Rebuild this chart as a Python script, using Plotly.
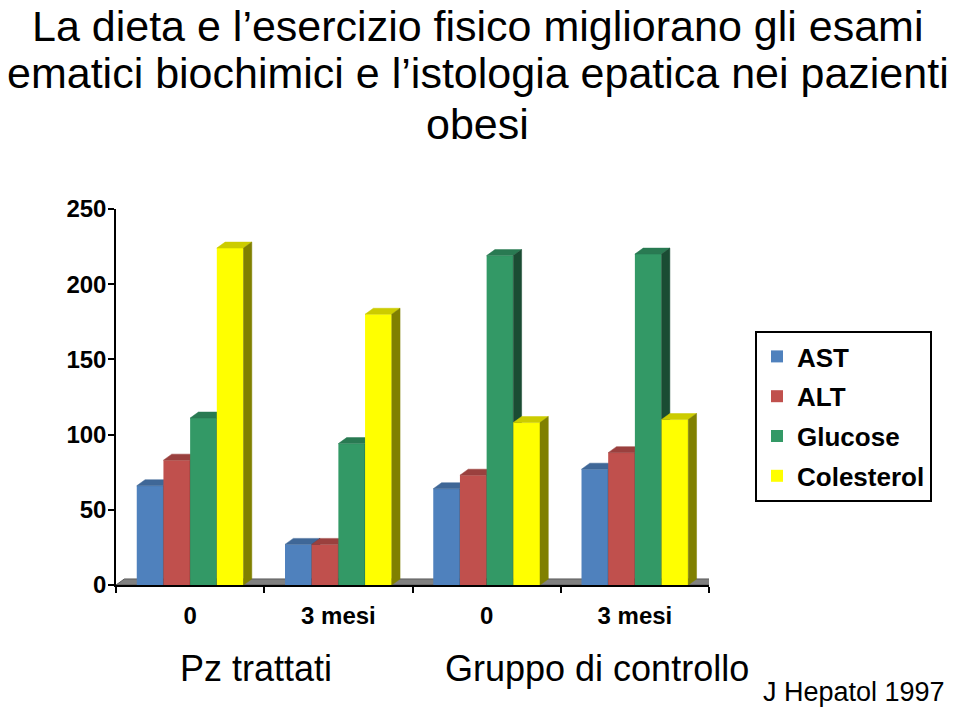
import plotly.graph_objects as go

# ---------------- data ----------------
categories = ["0", "3 mesi", "0", "3 mesi"]
group_labels = ["Pz trattati", "Gruppo di controllo"]
series_names = ["AST", "ALT", "Glucose", "Colesterol"]
ast = [66, 27, 64, 77]
alt = [83, 27, 73, 88]
glucose = [111, 94, 219, 220]
colesterol = [224, 180, 108, 110]
y_ticks = [0, 50, 100, 150, 200, 250]
source = "J Hepatol 1997"
title_lines = [
    "La dieta e l\u2019esercizio fisico migliorano gli esami",
    "ematici biochimici e l\u2019istologia epatica nei pazienti",
    "obesi",
]

# ---------------- style ----------------
series_values = [ast, alt, glucose, colesterol]
front_colors = [(79, 129, 189), (192, 80, 77), (51, 153, 102), (255, 255, 0)]
BAR_W = 0.18          # width of one bar (category units)
DX = 0.056            # 3-D depth, horizontal (category units)
DY = 4.0              # 3-D depth, vertical (value units)
Y_MAX = 250
FONT = "Liberation Sans, Arial, sans-serif"

# pixel geometry of the plot area (used to place texts)
PL, PR, PT, PB = 116, 709, 209, 585


def px_x(p):
    return (p - PL) / (PR - PL)


def px_y(p):
    return (PB - p) / (PB - PT)


def rgb(c, k=1.0):
    return "rgb(%d,%d,%d)" % tuple(int(round(v * k)) for v in c)


xs = list(range(len(categories)))
x_lo, x_hi = -0.5, len(categories) - 0.5
n_series = len(series_names)
first_offset = -BAR_W * n_series / 2

fig = go.Figure()

# floor of the 3-D plot (base subplot, behind everything)
fig.add_trace(go.Scatter(
    x=[x_lo, x_hi, x_hi + DX, x_lo + DX, x_lo],
    y=[0, 0, DY, DY, 0],
    mode="lines", fill="toself", fillcolor="rgb(128,128,128)",
    line=dict(color="rgb(90,90,90)", width=1),
    hoverinfo="skip", showlegend=False, yaxis="y",
))

for j, (name, vals, col) in enumerate(zip(series_names, series_values, front_colors)):
    yax = "y%d" % (j + 2)
    off = first_offset + j * BAR_W
    # front faces
    fig.add_trace(go.Bar(
        x=xs, y=vals, offset=off, width=BAR_W, name=name,
        marker=dict(color=rgb(col), line=dict(width=0)),
        legendgroup=name, yaxis=yax,
    ))
    # top and side faces
    tx, ty = [], []
    sx, sy = [], []
    for xc, v in zip(xs, vals):
        L = xc + off
        R = L + BAR_W
        tx += [L, R, R + DX, L + DX, L, None]
        ty += [v, v, v + DY, v + DY, v, None]
        sx += [R, R + DX, R + DX, R, R, None]
        sy += [0, DY, v + DY, v, 0, None]
    fig.add_trace(go.Scatter(
        x=tx, y=ty, mode="lines", fill="toself", fillcolor=rgb(col, 0.8),
        line=dict(color=rgb(col, 0.8), width=0.5),
        hoverinfo="skip", showlegend=False, legendgroup=name, yaxis=yax,
    ))
    fig.add_trace(go.Scatter(
        x=sx, y=sy, mode="lines", fill="toself", fillcolor=rgb(col, 0.5),
        line=dict(color=rgb(col, 0.5), width=0.5),
        hoverinfo="skip", showlegend=False, legendgroup=name, yaxis=yax,
    ))

boundaries = [x - 0.5 for x in xs] + [xs[-1] + 0.5]

layout_axes = {}
for j in range(n_series):
    layout_axes["yaxis%d" % (j + 2)] = dict(
        overlaying="y", range=[0, Y_MAX], visible=False, fixedrange=True,
    )

annotations = []
for i, (line, py) in enumerate(zip(title_lines, [0, 73, 124])):
    annotations.append(dict(
        text=line, xref="paper", yref="paper", x=px_x(478), y=px_y(py),
        showarrow=False, xanchor="center",
        yanchor="top" if i == 0 else "middle",
        font=dict(family=FONT, size=43, color="black")))
for lab, pxc in zip(group_labels, [256, 597]):
    annotations.append(dict(
        text=lab, xref="paper", yref="paper", x=px_x(pxc), y=px_y(668),
        showarrow=False, xanchor="center", yanchor="middle",
        font=dict(family=FONT, size=36, color="black")))
annotations.append(dict(
    text=source, xref="paper", yref="paper", x=px_x(854), y=px_y(692),
    showarrow=False, xanchor="center", yanchor="middle",
    font=dict(family=FONT, size=27, color="black")))

fig.update_layout(
    width=960, height=709,
    margin=dict(l=PL, r=960 - PR, t=PT, b=709 - PB),
    paper_bgcolor="white", plot_bgcolor="white",
    font=dict(family=FONT, color="black"),
    showlegend=True,
    xaxis=dict(
        range=[x_lo, x_hi], tickmode="array", tickvals=xs, ticktext=categories,
        ticks="", showline=True, linecolor="black", linewidth=1.5,
        showgrid=False, zeroline=False, fixedrange=True,
        tickfont=dict(family=FONT, size=24, color="black", weight="bold"),
        minor=dict(tickmode="array", tickvals=boundaries, ticks="outside",
                   ticklen=6, tickwidth=1.5, tickcolor="black", showgrid=False),
        ticklabelstandoff=8,
    ),
    yaxis=dict(
        range=[0, Y_MAX], tickmode="array", tickvals=y_ticks,
        ticks="outside", ticklen=6, tickwidth=1.5, tickcolor="black",
        showline=True, linecolor="black", linewidth=1.5,
        showgrid=False, zeroline=False, fixedrange=True,
        tickfont=dict(family=FONT, size=24, color="black", weight="bold"),
        ticklabelstandoff=-3,
    ),
    legend=dict(
        x=px_x(755), xanchor="left", y=px_y(331), yanchor="top",
        bordercolor="black", borderwidth=2, bgcolor="white",
        font=dict(family=FONT, size=26, color="black", weight="bold"),
        traceorder="grouped", tracegroupgap=3, itemclick=False,
    ),
    barmode="overlay",
    annotations=annotations,
    **layout_axes,
)

fig.write_html("out.html")
